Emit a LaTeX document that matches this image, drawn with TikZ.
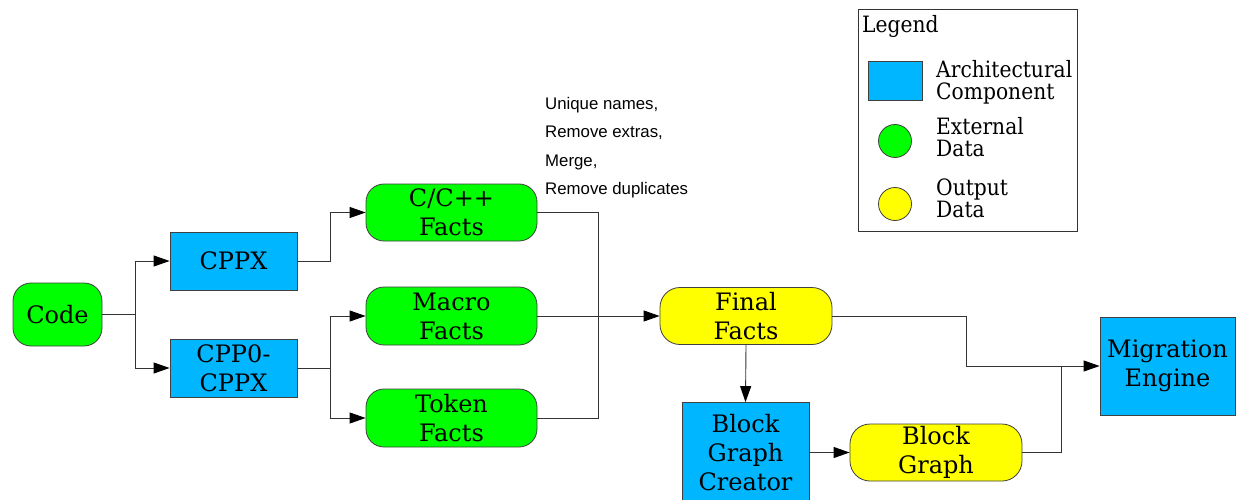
\documentclass[tikz,border=0pt]{standalone}
\usepackage{fontspec}
\setmainfont{DejaVu Serif}
\newfontfamily\annfont{Liberation Sans}
\newfontfamily\legfont[FakeStretch=0.9]{DejaVu Serif}
\usetikzlibrary{arrows.meta}
\definecolor{archblue}{RGB}{0,182,255}
\definecolor{extgreen}{RGB}{0,255,0}
\definecolor{outyellow}{RGB}{255,255,0}
\tikzset{
  base/.style={draw=black!75, line width=0.8pt, align=center, inner sep=0pt,
    font=\fontsize{24}{29}\selectfont},
  comp/.style={base, fill=archblue, rectangle},
  ext/.style={base, fill=extgreen, rounded corners=18pt},
  outd/.style={base, fill=outyellow, rounded corners=20pt},
  wire/.style={draw=black!80, line width=0.9pt},
  arr/.style={wire, -{Triangle[length=16pt,width=11pt,color=black]}},
  note/.style={anchor=base west, inner sep=0pt, font=\annfont\fontsize{16.8}{18}\selectfont},
  legtxt/.style={anchor=base west, inner sep=0pt, align=left, font=\legfont\fontsize{22.5}{22}\selectfont},
}
\begin{document}
\begin{tikzpicture}[x=1pt,y=-1pt]
\useasboundingbox (0,0) rectangle (1239,500);

% data and component nodes
\node[ext, minimum width=89pt, minimum height=63pt] (code) at (57.5,314.5) {Code};
\node[comp, minimum width=127pt, minimum height=58pt] (cppx) at (233.5,261) {CPPX};
\node[comp, minimum width=127pt, minimum height=58pt] (cpp0) at (233.5,368) {CPP0-\\CPPX};
\node[ext, minimum width=171pt, minimum height=57pt] (cfacts) at (451.5,212.5) {C/C++\\Facts};
\node[ext, minimum width=171pt, minimum height=58pt] (mfacts) at (451.5,316) {Macro\\Facts};
\node[ext, minimum width=171pt, minimum height=58pt] (tfacts) at (451.5,418) {Token\\Facts};
\node[outd, minimum width=172pt, minimum height=57pt] (final) at (746,316) {Final\\Facts};
\node[comp, minimum width=127pt, minimum height=100pt] (bgc) at (745.5,452.5) {Block\\Graph\\Creator};
\node[outd, minimum width=172pt, minimum height=57pt] (bgraph) at (936,452.5) {Block\\Graph};
\node[comp, minimum width=135pt, minimum height=98pt] (mig) at (1167.5,366) {Migration\\Engine};

% processing notes
\node[note] (n1) at (545,110) {Unique names,};
\node[note] (n2) at (545,138) {Remove extras,};
\node[note] (n3) at (545,166) {Merge,};
\node[note] (n4) at (545,194) {Remove duplicates};

% junction points
\coordinate (j1) at (135,314.5);
\coordinate (j2) at (330,368);
\coordinate (j3) at (598,316);
\coordinate (j4) at (1061,366);

% connectors
\draw[wire] (code.east) -- (j1);
\draw[arr] (j1) |- (cppx.west);
\draw[arr] (j1) |- (cpp0.west);
\draw[arr] (cppx.east) -| (330,212.5) -- (cfacts.west);
\draw[wire] (cpp0.east) -- (j2);
\draw[arr] (j2) |- (mfacts.west);
\draw[arr] (j2) |- (tfacts.west);
\draw[wire] (cfacts.east) -| (j3);
\draw[wire] (tfacts.east) -| (j3);
\draw[arr] (mfacts.east) -- (final.west);
\draw[arr] (final.south) -- (bgc.north);
\draw[arr] (bgc.east) -- (bgraph.west);
\draw[arr] (final.east) -| (966,366) -- (mig.west);
\draw[wire] (bgraph.east) -| (j4);

% legend
\node[draw=black!80, line width=0.8pt, minimum width=219pt, minimum height=222pt, inner sep=0pt] (legend) at (967.5,120) {};
\node[anchor=base west, inner sep=0pt, font=\legfont\fontsize{22.5}{22}\selectfont] (legtitle) at (862,33) {Legend};
\node[comp, minimum width=54pt, minimum height=39pt] (lcomp) at (895,80.5) {};
\node[base, fill=extgreen, circle, minimum size=33pt] (lext) at (895,141) {};
\node[base, fill=outyellow, circle, minimum size=33pt] (lout) at (895,204) {};
\node[legtxt] (tcomp) at (936,100) {Architectural\\Component};
\node[legtxt] (text) at (936,157) {External\\Data};
\node[legtxt] (tout) at (936,217) {Output\\Data};
\end{tikzpicture}
\end{document}
